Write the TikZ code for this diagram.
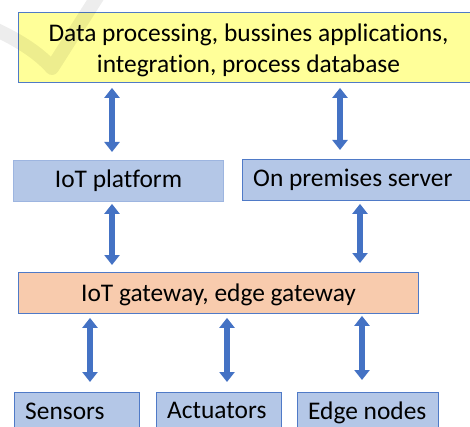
\documentclass[tikz,border=0pt]{standalone}
\usepackage{fontspec}
\setmainfont{Carlito}[Ligatures=CommonOff]
\usetikzlibrary{arrows.meta}

\definecolor{yellowfill}{HTML}{FFFF99}
\definecolor{bluefill}{HTML}{B4C7E7}
\definecolor{orangefill}{HTML}{F8CBAD}
\definecolor{boxline}{HTML}{4F7AC7}
\definecolor{paleline}{HTML}{9DB5E0}
\definecolor{arrowblue}{HTML}{4472C4}

\begin{document}
\begin{tikzpicture}[x=1pt, y=-1pt,
  box/.style={draw=boxline, line width=0.9pt, inner sep=0pt, anchor=north west},
  lbl/.style={font=\fontsize{25.4}{31}\selectfont, inner sep=0pt, text=black},
  arr/.style={draw=arrowblue, line width=5.5pt,
    {Triangle[width=15pt,length=10pt]}-{Triangle[width=15pt,length=10pt]}}]

  \useasboundingbox (0,0) rectangle (470,427);

  % top layer: applications
  \node[box, fill=yellowfill, minimum width=461pt, minimum height=70pt] (apps) at (18,12) {};

  % faint logo stroke in the background corner
  \draw[black, opacity=0.07, line width=14pt, line join=round]
    (-10,27) .. controls (15,38) and (38,52) .. (52,68) -- (99,-6);

  \node[lbl, align=center] (appstext) at (248.5,50.5)
    {Data processing, bussines applications,\\integration, process database};

  % platform layer
  \node[box, draw=paleline, fill=bluefill, minimum width=210pt, minimum height=41pt] (platform) at (13,160) {};
  \node[lbl, anchor=base] (platformtext) at (118.5,188) {IoT platform};
  \node[box, fill=bluefill, minimum width=240pt, minimum height=41pt] (server) at (242,159) {};
  \node[lbl, anchor=base west] (servertext) at (253,187) {On premises server};

  % gateway layer
  \node[box, fill=orangefill, minimum width=400pt, minimum height=41pt] (gateway) at (18,272) {};
  \node[lbl, anchor=base] (gatewaytext) at (218.5,301) {IoT gateway, edge gateway};

  % device layer
  \node[box, fill=bluefill, minimum width=125pt, minimum height=45pt] (sensors) at (14,392) {};
  \node[lbl, anchor=base west] (sensorstext) at (25,419) {Sensors};
  \node[box, fill=bluefill, minimum width=125pt, minimum height=45pt] (actuators) at (156,392) {};
  \node[lbl, anchor=base west] (actuatorstext) at (167,418) {Actuators};
  \node[box, fill=bluefill, minimum width=141pt, minimum height=45pt] (edge) at (297,392) {};
  \node[lbl, anchor=base west] (edgetext) at (308,419) {Edge nodes};

  % arrow columns
  \coordinate (c1) at (112,0);
  \coordinate (c2) at (340,0);
  \coordinate (c3) at (360,0);
  \coordinate (c4) at (90,0);
  \coordinate (c5) at (227,0);
  \coordinate (c6) at (362,0);

  % connectors between layers
  \draw[arr, shorten <=5pt, shorten >=8pt] (apps.south -| c1) -- (platform.north -| c1);
  \draw[arr, shorten <=5pt, shorten >=9pt] (apps.south -| c2) -- (server.north -| c2);
  \draw[arr, shorten <=2pt, shorten >=7pt] (platform.south -| c1) -- (gateway.north -| c1);
  \draw[arr, shorten <=3pt, shorten >=9pt] (server.south -| c3) -- (gateway.north -| c3);
  \draw[arr, shorten <=4pt, shorten >=10pt] (gateway.south -| c4) -- (sensors.north -| c4);
  \draw[arr, shorten <=4pt, shorten >=10pt] (gateway.south -| c5) -- (actuators.north -| c5);
  \draw[arr, shorten <=2pt, shorten >=12pt] (gateway.south -| c6) -- (edge.north -| c6);
\end{tikzpicture}
\end{document}
